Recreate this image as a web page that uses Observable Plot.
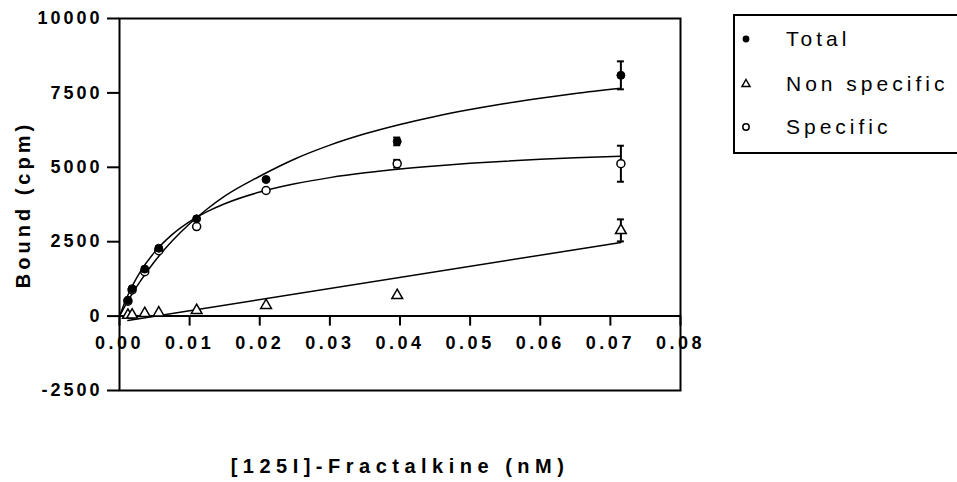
<!DOCTYPE html>
<html><head><meta charset="utf-8">
<script src="https://cdn.jsdelivr.net/npm/d3@7"></script>
<script src="https://cdn.jsdelivr.net/npm/@observablehq/plot@0.6"></script>
<style>
html,body{margin:0;padding:0;background:#fff;overflow:hidden;}
#wrap{position:relative;width:957px;height:482px;overflow:hidden;font-family:"Liberation Sans",Arial,sans-serif;}
#legend{position:absolute;left:733px;top:14px;width:260px;height:140px;border:2px solid #000;box-sizing:border-box;background:#fff;}
.row{position:absolute;left:0;height:30px;width:250px;}
.row svg{position:absolute;left:-1px;top:0;}
.row span{position:absolute;left:51px;top:0;line-height:30px;font-size:21px;letter-spacing:4px;white-space:nowrap;color:#000;}
</style>
</head><body>
<div id="wrap"></div>
<script>
// ---- data ----
const concentration = [0.0012, 0.0018, 0.0036, 0.0056, 0.011, 0.0209, 0.0396, 0.0715];
const total        = [530, 920, 1580, 2280, 3270, 4590, 5870, 8090];
const totalErr     = [0, 0, 0, 0, 0, 0, 130, 470];
const nonSpecific  = [30, 40, 90, 110, 190, 360, 695, 2880];
const nonSpecErr   = [0, 0, 0, 0, 0, 0, 0, 370];
const specific     = [500, 880, 1490, 2200, 3010, 4220, 5120, 5120];
const specificErr  = [0, 0, 0, 0, 0, 0, 130, 605];

// fitted curves
const curveX        = [0, 0.001, 0.002, 0.003, 0.005, 0.0075, 0.01, 0.0125, 0.015, 0.02, 0.025, 0.03, 0.035, 0.04, 0.045, 0.05, 0.055, 0.06, 0.065, 0.0715];
const totalCurve    = [0, 429, 823, 1186, 1833, 2520, 3102, 3600, 4031, 4700, 5280, 5745, 6125, 6440, 6710, 6942, 7145, 7322, 7480, 7655];
const specificCurve = [0, 600, 1091, 1502, 2149, 2738, 3174, 3508, 3774, 4168, 4446, 4653, 4814, 4941, 5045, 5132, 5205, 5267, 5321, 5370];
const nsLineX = [0.0012, 0.0715];
const nsLineY = [-150, 2475];

const yTicks = [-2500, 0, 2500, 5000, 7500, 10000];
const xTicks = [0, 0.01, 0.02, 0.03, 0.04, 0.05, 0.06, 0.07, 0.08];
const xTickLabels = ["0.00", "0.01", "0.02", "0.03", "0.04", "0.05", "0.06", "0.07", "0.08"];

const seriesNames = ["Total", "Non specific", "Specific"];
const xTitle = "[125I]-Fractalkine (nM)";
const yTitle = "Bound (cpm)";

// ---- tables ----
const mk = (vals, errs) => concentration.map((c, i) => ({c, v: vals[i], lo: vals[i] - errs[i], hi: vals[i] + errs[i], e: errs[i]}));
const totalData = mk(total, totalErr);
const nsData = mk(nonSpecific, nonSpecErr);
const specData = mk(specific, specificErr);
const errData = [...totalData, ...nsData, ...specData].filter(d => d.e > 0);
const totalLine = curveX.map((x, i) => ({x, y: totalCurve[i]}));
const specLine = curveX.map((x, i) => ({x, y: specificCurve[i]}));
const nsLine = nsLineX.map((x, i) => ({x, y: nsLineY[i]}));

const font = '"Liberation Sans", Arial, sans-serif';

const chart = Plot.plot({
  width: 957, height: 482,
  marginLeft: 119, marginRight: 277, marginTop: 18, marginBottom: 92,
  x: {domain: [0, 0.08], axis: null},
  y: {domain: [-2500, 10000], axis: null},
  style: {fontFamily: font, color: "#000", background: "#fff", overflow: "visible"},
  marks: [
    Plot.axisY(yTicks, {tickSize: 12, tickPadding: 5, fontSize: 18, fontWeight: "bold", strokeWidth: 2, tickFormat: d => String(d), label: null}),
    Plot.text([yTitle], {frameAnchor: "left", dx: -96, rotate: -90, textAnchor: "middle", lineAnchor: "middle", fontSize: 20, fontWeight: "bold"}),
    Plot.text([xTitle], {frameAnchor: "bottom", dy: 76, textAnchor: "middle", lineAnchor: "middle", fontSize: 20, fontWeight: "bold"}),
    Plot.ruleY([0], {stroke: "#000", strokeWidth: 2}),
    Plot.ruleX(xTicks, {x: d => d, y1: 0, y2: 0, insetBottom: -10, stroke: "#000", strokeWidth: 2}),
    Plot.text(xTicks, {x: d => d, y: 0, dy: 27, text: (d, i) => xTickLabels[i], fontSize: 18, fontWeight: "bold", lineAnchor: "middle"}),
    Plot.frame({stroke: "#000", strokeWidth: 2}),
    Plot.line(nsLine, {x: "x", y: "y", stroke: "#000", strokeWidth: 1.5}),
    Plot.line(specLine, {x: "x", y: "y", stroke: "#000", strokeWidth: 1.5, curve: "monotone-x"}),
    Plot.line(totalLine, {x: "x", y: "y", stroke: "#000", strokeWidth: 1.5, curve: "monotone-x"}),
    Plot.ruleX(errData, {x: "c", y1: "lo", y2: "hi", stroke: "#000", strokeWidth: 2}),
    Plot.ruleY(errData, {y: "hi", x1: "c", x2: "c", insetLeft: -3.5, insetRight: -3.5, stroke: "#000", strokeWidth: 2}),
    Plot.ruleY(errData, {y: "lo", x1: "c", x2: "c", insetLeft: -3.5, insetRight: -3.5, stroke: "#000", strokeWidth: 2}),
    Plot.dot(nsData, {x: "c", y: "v", symbol: "triangle", r: 4, fill: "#fff", stroke: "#000", strokeWidth: 1.5}),
    Plot.dot(specData, {x: "c", y: "v", r: 4, fill: "#fff", stroke: "#000", strokeWidth: 1.5}),
    Plot.dot(totalData, {x: "c", y: "v", r: 4, fill: "#000", stroke: "#000", strokeWidth: 1})
  ]
});

// Prism-like wide letter spacing
const yLabelSet = new Set(yTicks.map(String));
const xLabelSet = new Set(xTickLabels);
d3.select(chart).selectAll("text").each(function () {
  const t = this.textContent;
  const s = d3.select(this);
  if (yLabelSet.has(t)) s.style("letter-spacing", "3px");
  else if (xLabelSet.has(t)) s.style("letter-spacing", "3.5px");
  else if (t === yTitle) s.style("letter-spacing", "4px");
  else if (t === xTitle) s.style("letter-spacing", "5.5px");
});

const wrap = document.getElementById("wrap");
wrap.appendChild(chart);

// legend
const legend = document.createElement("div");
legend.id = "legend";
const rowTops = [8, 53, 96];
const symbols = [
  '<circle cx="12" cy="15" r="3.4" fill="#000"/>',
  '<path d="M12,10.5 L16,17.5 L8,17.5 Z" fill="#fff" stroke="#000" stroke-width="1.5"/>',
  '<circle cx="12" cy="15" r="3.2" fill="#fff" stroke="#000" stroke-width="1.5"/>'
];
seriesNames.forEach((name, i) => {
  const row = document.createElement("div");
  row.className = "row";
  row.style.top = rowTops[i] + "px";
  row.innerHTML = '<svg width="24" height="30">' + symbols[i] + '</svg><span>' + name + '</span>';
  legend.appendChild(row);
});
wrap.appendChild(legend);
</script>
</body></html>
